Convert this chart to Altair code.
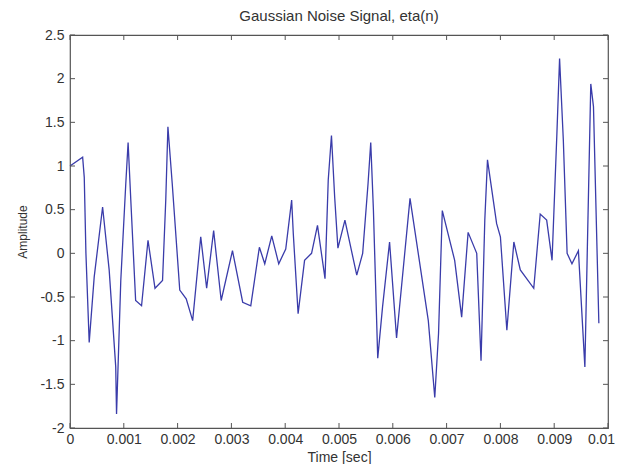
import altair as alt
import pandas as pd

# Sample times (sec) and amplitudes
time = [0.0, 0.000235, 0.000265, 0.000296, 0.000357, 0.00045, 0.000606, 0.000728,
        0.00085, 0.000865, 0.000944, 0.001037, 0.00108, 0.00113, 0.00122, 0.00133,
        0.00145, 0.00158, 0.00172, 0.00178, 0.00182, 0.0019, 0.00204, 0.00216,
        0.00228, 0.00243, 0.00254, 0.00267, 0.00281, 0.00302, 0.00321, 0.00336,
        0.00352, 0.00362, 0.00375, 0.00388, 0.00401, 0.00412, 0.00415, 0.00424,
        0.00436, 0.00449, 0.0046, 0.00474, 0.0048, 0.00486, 0.00492, 0.00498,
        0.00511, 0.00533, 0.00544, 0.00554, 0.00559, 0.00564, 0.00572, 0.00581,
        0.00594, 0.00607, 0.00632, 0.00666, 0.00678, 0.00685, 0.00692, 0.00715,
        0.00728, 0.0074, 0.00756, 0.00764, 0.00771, 0.00776, 0.00793, 0.008,
        0.00812, 0.00825, 0.00837, 0.00862, 0.00874, 0.00886, 0.00896, 0.00905,
        0.0091, 0.00917, 0.00924, 0.00933, 0.00945, 0.00957, 0.00968, 0.00973,
        0.00983]
amplitude = [1.0, 1.1, 0.87, 0.0, -1.02, -0.27, 0.53, -0.19,
             -1.3, -1.84, -0.31, 0.8, 1.27, 0.61, -0.54, -0.6,
             0.15, -0.4, -0.31, 0.61, 1.45, 0.8, -0.42, -0.52,
             -0.77, 0.19, -0.4, 0.26, -0.54, 0.03, -0.56, -0.6,
             0.07, -0.12, 0.2, -0.12, 0.05, 0.61, 0.23, -0.69,
             -0.08, 0.0, 0.32, -0.29, 0.84, 1.35, 0.64, 0.06,
             0.38, -0.25, 0.0, 0.8, 1.27, 0.49, -1.2, -0.61,
             0.13, -0.97, 0.63, -0.77, -1.65, -0.92, 0.49, -0.08,
             -0.73, 0.24, 0.0, -1.23, 0.38, 1.07, 0.34, 0.19,
             -0.88, 0.13, -0.19, -0.4, 0.45, 0.38, -0.08, 1.37,
             2.23, 1.29, 0.0, -0.12, 0.03, -1.3, 1.94, 1.68,
             -0.8]

x_ticks = [0, 0.001, 0.002, 0.003, 0.004, 0.005, 0.006, 0.007, 0.008, 0.009, 0.01]
y_ticks = [-2, -1.5, -1, -0.5, 0, 0.5, 1, 1.5, 2, 2.5]

W, H = 538, 393
FONT = "Liberation Sans"
AXC = "#555555"
TXT = "#333333"

sig = pd.DataFrame({"t": time, "a": amplitude})
xt = pd.DataFrame({"t": x_ticks})
yt = pd.DataFrame({"a": y_ticks})

xscale = alt.Scale(domain=[0, 0.01], nice=False, zero=False)
yscale = alt.Scale(domain=[-2, 2.5], nice=False, zero=False)

xaxis = alt.Axis(values=x_ticks, labelExpr="'' + datum.value", tickSize=0,
                 grid=False, domain=False, labelPadding=4, titlePadding=4,
                 labelFontSize=14, titleFontSize=14, labelFont=FONT,
                 titleFont=FONT, labelColor=TXT, titleColor=TXT,
                 titleFontWeight="normal", labelFlush=False,
                 labelOffset={"condition": {"test": "datum.value == 0.01", "value": -7},
                              "value": 0})
yaxis = alt.Axis(values=y_ticks, labelExpr="'' + datum.value", tickSize=0,
                 grid=False, domain=False, labelPadding=6, titlePadding=10,
                 labelFontSize=14, titleFontSize=12, labelFont=FONT,
                 titleFont=FONT, labelColor=TXT, titleColor=TXT,
                 titleFontWeight="normal", labelFlush=False)

line = alt.Chart(sig).mark_line(color="#3a3caa", strokeWidth=1.3).encode(
    x=alt.X("t:Q", scale=xscale, title="Time [sec]", axis=xaxis),
    y=alt.Y("a:Q", scale=yscale, title="Amplitude", axis=yaxis),
)

def xtick(y1, y2):
    return alt.Chart(xt).mark_rule(color=AXC, strokeWidth=1).encode(
        x=alt.X("t:Q", scale=xscale, title="Time [sec]", axis=xaxis),
        y=alt.value(y1), y2=alt.value(y2))

def ytick(x1, x2):
    return alt.Chart(yt).mark_rule(color=AXC, strokeWidth=1).encode(
        y=alt.Y("a:Q", scale=yscale, title="Amplitude", axis=yaxis),
        x=alt.value(x1), x2=alt.value(x2))

chart = alt.layer(
    line, xtick(H, H - 5), xtick(0, 5), ytick(0, 5), ytick(W, W - 5)
).properties(
    width=W, height=H,
    title=alt.TitleParams("Gaussian Noise Signal, eta(n)", fontSize=15,
                          fontWeight="normal", font=FONT, color=TXT, offset=4),
    autosize=alt.AutoSizeParams(type="none"),
    padding={"left": 62, "top": 27, "right": 7, "bottom": 36},
).configure_view(stroke=AXC, strokeWidth=1.2)

chart.save("out.html", embed_options={"renderer": "svg", "actions": False})
